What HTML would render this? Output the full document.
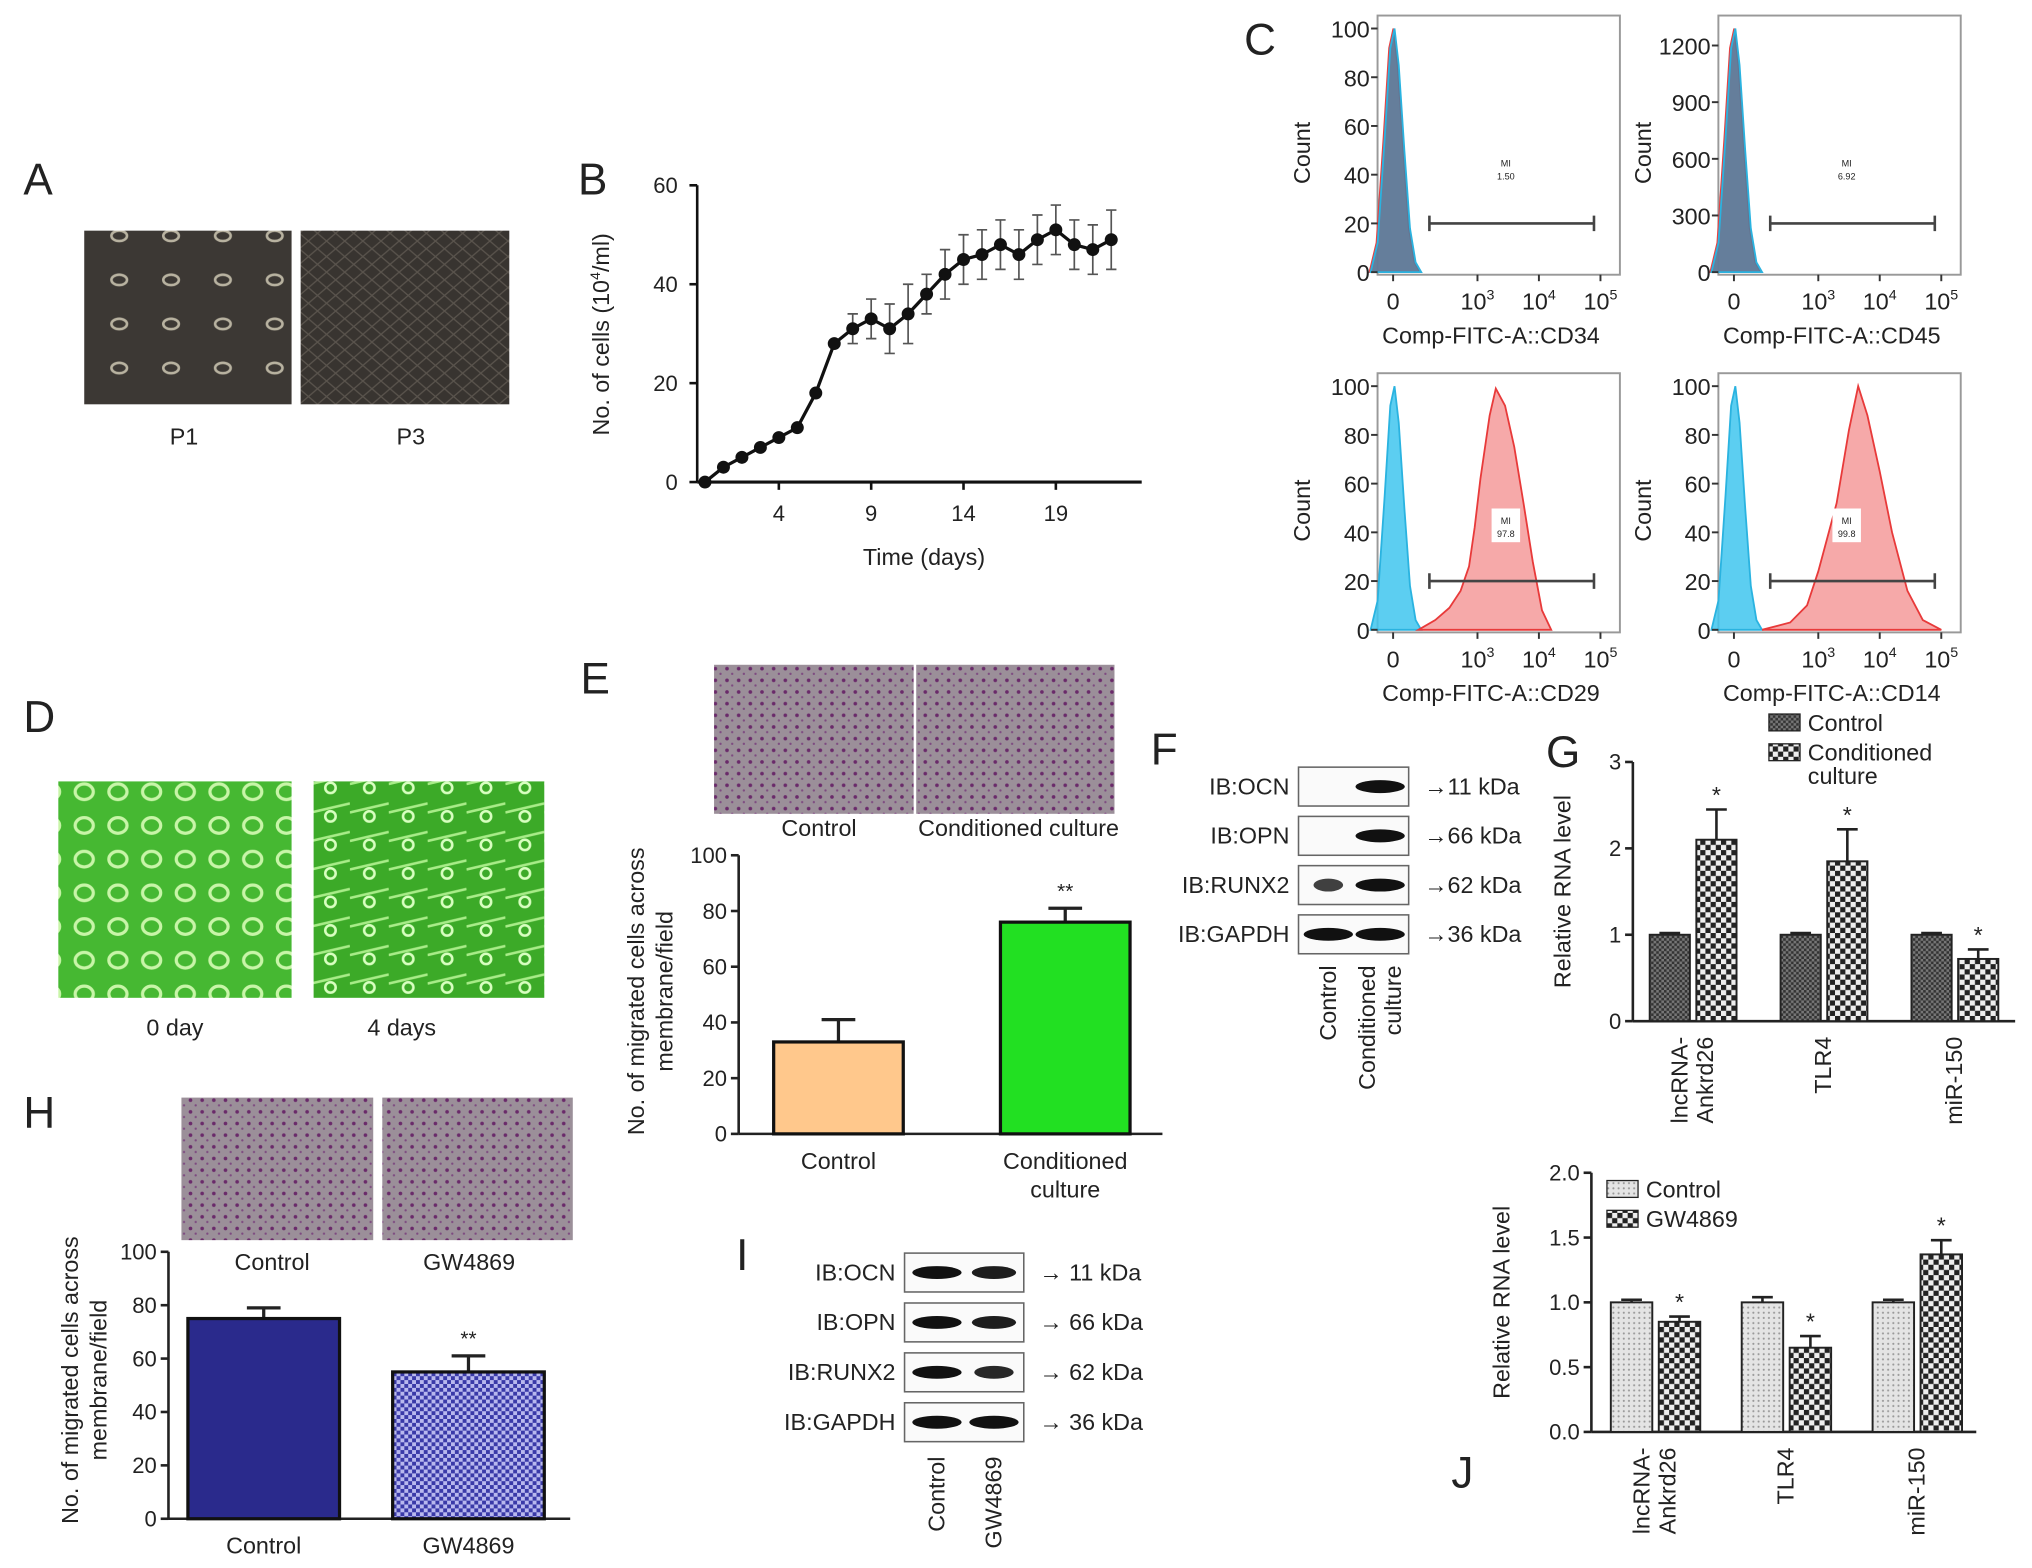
<!DOCTYPE html>
<html><head><meta charset="utf-8"><style>
html,body{margin:0;padding:0;background:#fff}
svg{display:block}
text{font-family:"Liberation Sans",Arial,sans-serif;fill:#222}
</style></head><body>
<svg id="fig" xmlns="http://www.w3.org/2000/svg" width="2032" height="1568" viewBox="0 0 1568 1210" preserveAspectRatio="none">
<defs>
<pattern id="dots" width="9" height="9" patternUnits="userSpaceOnUse"><rect width="9" height="9" fill="#9b8f99"/><circle cx="3" cy="3" r="1.4" fill="#6a2a6a"/><circle cx="7" cy="7" r="0.9" fill="#7d4a80"/></pattern>
<pattern id="chkBlue" width="6" height="6" patternUnits="userSpaceOnUse"><rect width="6" height="6" fill="#b8b8ee"/><rect width="3" height="3" fill="#3a3aa8"/><rect x="3" y="3" width="3" height="3" fill="#3a3aa8"/></pattern>
<pattern id="chkDark" width="4" height="4" patternUnits="userSpaceOnUse"><rect width="4" height="4" fill="#777"/><rect width="2" height="2" fill="#333"/><rect x="2" y="2" width="2" height="2" fill="#333"/></pattern>
<pattern id="chkBig" width="8" height="8" patternUnits="userSpaceOnUse"><rect width="8" height="8" fill="#eee"/><rect width="4" height="4" fill="#222"/><rect x="4" y="4" width="4" height="4" fill="#222"/></pattern>
<pattern id="dotLight" width="4" height="4" patternUnits="userSpaceOnUse"><rect width="4" height="4" fill="#e4e4e4"/><circle cx="1" cy="1" r="0.8" fill="#999"/></pattern>
<pattern id="green1" width="26" height="26" patternUnits="userSpaceOnUse"><rect width="26" height="26" fill="#46b832"/><ellipse cx="13" cy="13" rx="7" ry="6" fill="none" stroke="#c8f5a8" stroke-width="2.5"/></pattern>
<pattern id="green2" width="30" height="22" patternUnits="userSpaceOnUse"><rect width="30" height="22" fill="#3caa28"/><path d="M0 11 L30 4" stroke="#a8ec88" stroke-width="2"/><circle cx="15" cy="14" r="4" fill="none" stroke="#d8ffc0" stroke-width="2"/></pattern>
<pattern id="cellsP1" width="40" height="34" patternUnits="userSpaceOnUse"><rect width="40" height="34" fill="#3c3834"/><ellipse cx="12" cy="12" rx="6" ry="4" fill="none" stroke="#b8b2a0" stroke-width="2"/></pattern>
<pattern id="cellsP3" width="14" height="12" patternUnits="userSpaceOnUse"><rect width="14" height="12" fill="#383430"/><path d="M0 6 L7 0 L14 6 L7 12Z" fill="none" stroke="#5a544d" stroke-width="1"/></pattern>
</defs>
<g id="root"></g>
</svg>
<script>
// ---- Panel B data ----
const bDays=[0,1,2,3,4,5,6,7,8,9,10,11,12,13,14,15,16,17,18,19,20,21,22];
const bValues=[0,3,5,7,9,11,18,28,31,33,31,34,38,42,45,46,48,46,49,51,48,47,49];
const bErrors=[0,0,0,0,0,0,0,0,3,4,5,6,4,5,5,5,5,5,5,5,5,5,6];
const bYTicks=[0,20,40,60];
const bXTicks=[4,9,14,19];
// ---- Panel E data ----
const eCats=["Control","Conditioned culture"];
const eValues=[33,76];
const eErrors=[8,5];
const eTicks=[0,20,40,60,80,100];
// ---- Panel H data ----
const hCats=["Control","GW4869"];
const hValues=[75,55];
const hErrors=[4,6];
const hTicks=[0,20,40,60,80,100];
// ---- Panel G data ----
const gCats=["lncRNA-Ankrd26","TLR4","miR-150"];
const gControl=[1.0,1.0,1.0];
const gCond=[2.1,1.85,0.72];
const gCondErr=[0.35,0.37,0.11];
const gTicks=[0,1,2,3];
// ---- Panel J data ----
const jCats=["lncRNA-Ankrd26","TLR4","miR-150"];
const jControl=[1.0,1.0,1.0];
const jControlErr=[0.02,0.04,0.02];
const jGW=[0.85,0.65,1.37];
const jGWErr=[0.04,0.09,0.11];
const jTicks=[0,0.5,1.0,1.5,2.0];
// ---- Panel C histogram data (u: axis units, h: % of max) ----
const blueU=[-0.8,-0.55,-0.3,-0.1,0.05,0.2,0.4,0.6,0.8,1.0];
const blueH=[0,12,55,92,100,85,50,18,4,0];
const cd29U=[0.9,1.5,2.0,2.4,2.7,2.9,3.05,3.2,3.3,3.45,3.6,3.75,3.9,4.05,4.2];
const cd29H=[0,4,9,16,26,42,62,88,99,92,75,52,28,8,0];
const cd14U=[1.0,2.0,2.6,3.0,3.3,3.5,3.65,3.8,4.0,4.2,4.45,4.7,5.0];
const cd14H=[0,3,10,24,52,82,100,88,65,40,16,4,0];

const NS="http://www.w3.org/2000/svg";
const root=document.getElementById('root');
function mk(tag,attrs,parent){const e=document.createElementNS(NS,tag);for(const k in attrs)e.setAttribute(k,attrs[k]);(parent||root).appendChild(e);return e;}
function txt(x,y,s,size,anchor,parent,extra){const e=mk('text',Object.assign({x:x,y:y,'font-size':size,'text-anchor':anchor||'middle'},extra||{}),parent);e.textContent=s;return e;}

[["A",18,150],["B",446,150],["C",960,42],["D",18,565],["E",448,535],["F",888,590],["G",1193,592],["H",18,870],["I",568,980],["J",1120,1148]].forEach(p=>{
 const t=txt(p[1],p[2],p[0],34,'start');
 
 
});

let r=mk('rect',{x:65,y:178,width:160,height:134,fill:'url(#cellsP1)'});


r=mk('rect',{x:232,y:178,width:161,height:134,fill:'url(#cellsP3)'});


let t=txt(142,343,"P1",18);
t=txt(317,343,"P3",18);

// ---------- Panel B ----------
const bx=d=>544+d*14.25, by=v=>372-v*(229/60);
const gB=mk('g',{});


mk('line',{x1:538,y1:143,x2:538,y2:372,stroke:'#111','stroke-width':2},gB);
mk('line',{x1:538,y1:372,x2:881,y2:372,stroke:'#111','stroke-width':2.5},gB);
bYTicks.forEach(v=>{mk('line',{x1:532,y1:by(v),x2:538,y2:by(v),stroke:'#111','stroke-width':2},gB);const tt=txt(523,by(v)+6,String(v),17,'end',gB);});
bXTicks.forEach(v=>{mk('line',{x1:bx(v),y1:372,x2:bx(v),y2:378,stroke:'#111','stroke-width':2},gB);const tt=txt(bx(v),402,String(v),17,'middle',gB);});
t=txt(713,436,"Time (days)",18,'middle',gB);
t=mk('text',{x:0,y:0,'font-size':18,'text-anchor':'middle',transform:'translate(470,258) rotate(-90)'},gB);
t.innerHTML='No. of cells (10<tspan font-size="11" dy="-7">4</tspan><tspan dy="7">/ml)</tspan>';

bDays.forEach((d,i)=>{if(bErrors[i]>0){const e=mk('path',{d:`M${bx(d)} ${by(bValues[i]-bErrors[i])}V${by(bValues[i]+bErrors[i])}M${bx(d)-4} ${by(bValues[i]-bErrors[i])}h8M${bx(d)-4} ${by(bValues[i]+bErrors[i])}h8`,stroke:'#555','stroke-width':1.3,fill:'none'},gB);}});
const line=mk('polyline',{points:bDays.map((d,i)=>bx(d)+','+by(bValues[i])).join(' '),fill:'none',stroke:'#111','stroke-width':2.5},gB);

bDays.forEach((d,i)=>{const c=mk('circle',{cx:bx(d),cy:by(bValues[i]),r:5,fill:'#111'},gB);});

// ---------- Panel C ----------
function flowOff(u){return u<=3?12+u*21.7:77+(u-3)*47.5;}
function flowPanel(bx0,by0,w,h,ticks,maxv,title,gate,mi,peaks,name){
 const g=mk('g',{});
 
 
 const base=by0+h-2, top=by0+10;
 const ys=v=>base-(v/maxv)*(base-top);
 mk('rect',{x:bx0,y:by0,width:w,height:h,fill:'#fff',stroke:'#999','stroke-width':1.5},g);
 peaks.forEach(p=>{
  const pts=p.u.map((u,i)=>(bx0+flowOff(u))+','+(base-(p.h[i]/100)*(base-top)*p.scale)).join(' ');
  const a=mk('polygon',{points:pts,fill:p.fill,stroke:p.stroke,'stroke-width':1.4,'fill-opacity':p.op},g);
  
  
 });
 ticks.forEach(v=>{mk('line',{x1:bx0-5,y1:ys(v),x2:bx0,y2:ys(v),stroke:'#333','stroke-width':1.5},g);const tt=txt(bx0-6,ys(v)+7,String(v),18,'end',g);});
 const xl=[[0,"0"],[3,"10"],[4,"10"],[5,"10"]];
 xl.forEach((p,i)=>{const x=bx0+flowOff(p[0]);mk('line',{x1:x,y1:by0+h,x2:x,y2:by0+h+5,stroke:'#333','stroke-width':1.5},g);
  const tt=mk('text',{x:x,y:by0+h+27,'font-size':18,'text-anchor':'middle'},g);
  tt.innerHTML=i==0?'0':'10<tspan font-size="11" dy="-8">'+p[0]+'</tspan>';
  });
 t=txt(bx0+w/2-6,by0+h+53,title,18,'middle',g);
 t=txt(0,0,"Count",18,'middle',g,{transform:`translate(${bx0-52},${by0+h/2+6}) rotate(-90)`});
 const gy=ys(gate);
 const gl=mk('path',{d:`M${bx0+40} ${gy}H${bx0+167}M${bx0+40} ${gy-6}v12M${bx0+167} ${gy-6}v12`,stroke:'#444','stroke-width':2,fill:'none'},g);
 
 mk('rect',{x:bx0+88,y:gy-56,width:22,height:26,fill:mi[2]?'#fff':'none'},g);
 txt(bx0+99,gy-44,"MI",7,'middle',g);txt(bx0+99,gy-34,mi[0],7,'middle',g);
}
const bluePeak=s=>({id:'control',u:blueU,h:blueH,fill:'#3fc6ee',stroke:'#2ab3e0',op:0.85,scale:s});
flowPanel(1063,12,187,200,[0,20,40,60,80,100],100,"Comp-FITC-A::CD34",20,["1.50"],[
 {id:'sample',u:blueU.map(u=>u-0.04),h:blueH,fill:'#f08080',stroke:'#e84040',op:0.7,scale:1},
 {id:'overlap',u:blueU,h:blueH,fill:'#557a9a',stroke:'#2ab3e0',op:0.9,scale:1}],'flow-cd34');
flowPanel(1326,12,187,200,[0,300,600,900,1200],1290,"Comp-FITC-A::CD45",20*12.9,["6.92"],[
 {id:'sample',u:blueU.map(u=>u-0.04),h:blueH,fill:'#f08080',stroke:'#e84040',op:0.7,scale:1},
 {id:'overlap',u:blueU,h:blueH,fill:'#557a9a',stroke:'#2ab3e0',op:0.9,scale:1}],'flow-cd45');
flowPanel(1063,288,187,200,[0,20,40,60,80,100],100,"Comp-FITC-A::CD29",20,["97.8",0,1],[
 bluePeak(1),{id:'sample',u:cd29U,h:cd29H,fill:'#f59a9a',stroke:'#e83a3a',op:0.85,scale:1}],'flow-cd29');
flowPanel(1326,288,187,200,[0,20,40,60,80,100],100,"Comp-FITC-A::CD14",20,["99.8",0,1],[
 bluePeak(1),{id:'sample',u:cd14U,h:cd14H,fill:'#f59a9a',stroke:'#e83a3a',op:0.85,scale:1}],'flow-cd14');

// ---------- Panel D ----------
r=mk('rect',{x:45,y:603,width:180,height:167,fill:'url(#green1)'});
r=mk('rect',{x:242,y:603,width:178,height:167,fill:'url(#green2)'});
t=txt(135,799,"0 day",18);
t=txt(310,799,"4 days",18);

function barChart(o){
 const g=mk('g',{});
 
 
 const ys=v=>o.y0-(v/o.max)*(o.y0-o.y1);
 mk('line',{x1:o.ax,y1:o.y1,x2:o.ax,y2:o.y0,stroke:'#222','stroke-width':2},g);
 mk('line',{x1:o.ax,y1:o.y0,x2:o.xEnd,y2:o.y0,stroke:'#222','stroke-width':2},g);
 o.ticks.forEach(v=>{mk('line',{x1:o.ax-6,y1:ys(v),x2:o.ax,y2:ys(v),stroke:'#222','stroke-width':2},g);const tt=txt(o.ax-9,ys(v)+6,String(v),17,'end',g);});
 o.vals.forEach((v,i)=>{
  const x=o.bx[i];
  const e=mk('path',{d:`M${x+o.bw/2} ${ys(v)}V${ys(v+o.errs[i])}M${x+o.bw/2-13} ${ys(v+o.errs[i])}h26`,stroke:'#222','stroke-width':2.5,fill:'none'},g);
  
  const b=mk('rect',{x:x,y:ys(v),width:o.bw,height:o.y0-ys(v),fill:o.fills[i],stroke:'#111','stroke-width':2.5},g);
  
  
  o.catLines[i].forEach((s,k)=>{const tt=txt(x+o.bw/2,o.y0+27+k*22,s,18,'middle',g);});
  if(o.stars[i]){const st=txt(x+o.bw/2,ys(v+o.errs[i])-8,o.stars[i],16,'middle',g);}
 });
 const ty=txt(0,0,"No. of migrated cells across",18,'middle',g,{transform:`translate(${o.lx},${o.ly}) rotate(-90)`});
 const ty2=txt(0,0,"membrane/field",18,'middle',g,{transform:`translate(${o.lx+22},${o.ly}) rotate(-90)`});
}
r=mk('rect',{x:551,y:513,width:154,height:115,fill:'url(#dots)'});
r=mk('rect',{x:707,y:513,width:153,height:115,fill:'url(#dots)'});
t=txt(632,645,"Control",18);
t=txt(786,645,"Conditioned culture",18);
barChart({name:'migration-bar-chart-e',ax:570,y0:875,y1:660,max:100,xEnd:897,ticks:eTicks,vals:eValues,errs:eErrors,cats:eCats,bx:[597,772],bw:100,fills:['#ffc88c','#22e022'],catLines:[["Control"],["Conditioned","culture"]],stars:["","**"],lx:497,ly:765});

r=mk('rect',{x:140,y:847,width:148,height:110,fill:'url(#dots)'});
r=mk('rect',{x:295,y:847,width:147,height:110,fill:'url(#dots)'});
t=txt(210,980,"Control",18);
t=txt(362,980,"GW4869",18);
barChart({name:'migration-bar-chart-h',ax:130,y0:1172,y1:966,max:100,xEnd:440,ticks:hTicks,vals:hValues,errs:hErrors,cats:hCats,bx:[145,303],bw:117,fills:['#2a2a8c','url(#chkBlue)'],catLines:[["Control"],["GW4869"]],stars:["","**"],lx:60,ly:1065});

function blot(o){
 const g=mk('g',{});
 
 
 o.rows.forEach((lab,i)=>{
  const y=o.y0+i*o.step;
  const bx0=mk('rect',{x:o.x,y:y,width:o.w,height:30,fill:'#fafafa',stroke:'#666','stroke-width':1.2},g);
  
  o.bands[i].forEach((s,k)=>{if(s>0){mk('ellipse',{cx:o.lanes[k],cy:y+15,rx:o.bandW*s,ry:5,fill:'#111','fill-opacity':Math.min(1,0.5+s*0.5)},g);}});
  const tl=txt(o.x-7,y+21,"IB:"+lab,18,'end',g);
  const tk=txt(o.x+o.w+12,y+21,o.kda[i],18,'start',g);
 });
 o.laneLabels.forEach((ls,k)=>{ls.forEach((s,j)=>{const tt=txt(0,0,s,18,'end',g,{transform:`translate(${o.lanes[k]+6+j*20-(ls.length-1)*10},${o.labY}) rotate(-90)`});});});
}
blot({name:'western-blot-f',x:1002,w:85,y0:592,step:38,lanes:[1025,1065],bandW:19,rows:["OCN","OPN","RUNX2","GAPDH"],bands:[[0,1],[0,1],[0.6,1],[1,1]],kda:["→11 kDa","→66 kDa","→62 kDa","→36 kDa"],laneLabels:[["Control"],["Conditioned","culture"]],labY:745});
blot({name:'western-blot-i',x:698,w:92,y0:967,step:38.5,lanes:[723,767],bandW:19,rows:["OCN","OPN","RUNX2","GAPDH"],bands:[[1,0.9],[1,0.9],[1,0.8],[1,1]],kda:["→ 11 kDa","→ 66 kDa","→ 62 kDa","→ 36 kDa"],laneLabels:[["Control"],["GW4869"]],labY:1124});

function grouped(o){
 const g=mk('g',{});
 
 
 const ys=v=>o.y0-(v/o.max)*(o.y0-o.y1);
 mk('line',{x1:o.ax,y1:o.y1,x2:o.ax,y2:o.y0,stroke:'#222','stroke-width':2},g);
 mk('line',{x1:o.ax,y1:o.y0,x2:o.xEnd,y2:o.y0,stroke:'#222','stroke-width':2},g);
 o.ticks.forEach(v=>{mk('line',{x1:o.ax-6,y1:ys(v),x2:o.ax,y2:ys(v),stroke:'#222','stroke-width':2},g);const tt=txt(o.ax-9,ys(v)+6,o.fmt(v),17,'end',g);});
 o.cats.forEach((c,i)=>{
  const gx=o.gx0+i*o.gstep;
  [[o.a,o.aErr,o.fillA,'control'],[o.b,o.bErr,o.fillB,'treatment']].forEach((s,k)=>{
   const x=gx+k*(o.bw+5), v=s[0][i], e=s[1][i];
   if(e>0){const eb=mk('path',{d:`M${x+o.bw/2} ${ys(v)}V${ys(v+e)}M${x+o.bw/2-8} ${ys(v+e)}h16`,stroke:'#222','stroke-width':2,fill:'none'},g);}
   const b=mk('rect',{x:x,y:ys(v),width:o.bw,height:o.y0-ys(v),fill:s[2],stroke:'#222','stroke-width':1.5},g);
   
   
   if(k==1){const st=txt(x+o.bw/2,ys(v+e)-5,"*",18,'middle',g);}
  });
  const cx=gx+o.bw+2;
  const parts=c=="lncRNA-Ankrd26"?["lncRNA-","Ankrd26"]:[c];
  parts.forEach((s,j)=>{const tt=txt(0,0,s,18,'end',g,{transform:`translate(${cx+6+j*20-(parts.length-1)*10},${o.y0+12}) rotate(-90)`});});
 });
 const ty=txt(0,0,"Relative RNA level",18,'middle',g,{transform:`translate(${o.lx},${(o.y0+o.y1)/2}) rotate(-90)`});
 o.legend.forEach((l,i)=>{
  const lr=mk('rect',{x:o.legX,y:o.legY+i*23,width:24,height:13,fill:i==0?o.fillA:o.fillB,stroke:'#222','stroke-width':1},g);
  
  l.forEach((s,j)=>{const tt=txt(o.legX+30,o.legY+13+i*23+j*18,s,18,'start',g);});
 });
}
grouped({name:'rna-bar-chart-g',ax:1260,y0:788,y1:588,max:3,xEnd:1555,ticks:gTicks,fmt:v=>String(v),cats:gCats,a:gControl,aErr:[0.02,0.02,0.02],b:gCond,bErr:gCondErr,gx0:1273,gstep:101,bw:31,fillA:'url(#chkDark)',fillB:'url(#chkBig)',lx:1212,legX:1365,legY:551,legend:[["Control"],["Conditioned","culture"]]});
grouped({name:'rna-bar-chart-j',ax:1228,y0:1105,y1:905,max:2,xEnd:1525,ticks:jTicks,fmt:v=>v.toFixed(1),cats:jCats,a:jControl,aErr:jControlErr,b:jGW,bErr:jGWErr,gx0:1243,gstep:101,bw:32,fillA:'url(#dotLight)',fillB:'url(#chkBig)',lx:1165,legX:1240,legY:911,legend:[["Control"],["GW4869"]]});
</script>
</body></html>
